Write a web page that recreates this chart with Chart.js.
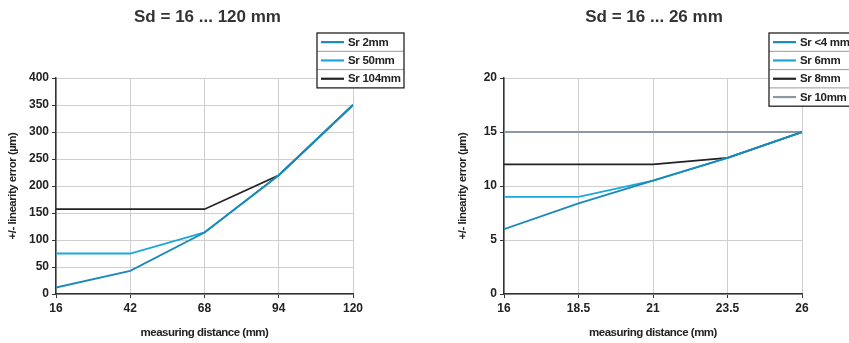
<!DOCTYPE html>
<html>
<head>
<meta charset="utf-8">
<script src="https://cdn.jsdelivr.net/npm/chart.js@4"></script>
<style>
  html, body { margin: 0; padding: 0; background: #fff; }
  #wrap { position: relative; width: 849px; height: 343px; }
  .box { position: absolute; top: 0; height: 343px; }
</style>
</head>
<body>
<div id="wrap">
  <div class="box" style="left:0;width:430px"><canvas id="left"></canvas></div>
  <div class="box" style="left:430px;width:419px"><canvas id="right"></canvas></div>
</div>
<script>
'use strict';

// Sd = 16 ... 120 mm
const distWide = [16, 42, 68, 94, 120];
const errWideTicks = [0, 50, 100, 150, 200, 250, 300, 350, 400];
const sr2 = [12, 43, 114, 220, 350];
const sr50 = [75, 75, 114, 220, 350];
const sr104 = [157, 157, 157, 220, 350];

// Sd = 16 ... 26 mm
const distNarrow = [16, 18.5, 21, 23.5, 26];
const errNarrowTicks = [0, 5, 10, 15, 20];
const srLt4 = [6, 8.4, 10.5, 12.6, 15];
const sr6 = [9, 9, 10.5, 12.6, 15];
const sr8 = [12, 12, 12, 12.6, 15];
const sr10 = [15, 15, 15, 15, 15];

const DARK_BLUE = '#1a89ba';
const LIGHT_BLUE = '#1ea7dd';
const BLACK = '#222222';
const GREY = '#8d99a2';
const FONT = '"Liberation Sans", Arial, sans-serif';

function toPoints(xs, ys) {
  return xs.map((x, i) => ({ x: x, y: ys[i] }));
}

function line(label, xs, ys, color) {
  return {
    label: label,
    data: toPoints(xs, ys),
    borderColor: color,
    backgroundColor: color,
    borderWidth: 1.8,
    pointRadius: 0,
    tension: 0,
  };
}

// titles, axis titles and the boxed legend
const decor = {
  id: 'decor',
  afterDraw(chart, args, opts) {
    const ctx = chart.ctx;
    const a = chart.chartArea;
    ctx.save();
    ctx.textAlign = 'center';
    ctx.textBaseline = 'middle';
    ctx.fillStyle = '#333';
    ctx.font = 'bold 17px ' + FONT;
    ctx.fillText(opts.title, (a.left + a.right) / 2 + opts.titleShift, 17);

    ctx.fillStyle = '#222';
    ctx.font = 'bold 11.5px ' + FONT;
    ctx.letterSpacing = '-0.5px';
    ctx.fillText('measuring distance (mm)', (a.left + a.right) / 2, 333);
    ctx.save();
    ctx.translate(opts.yTitleX, (a.top + a.bottom) / 2);
    ctx.rotate(-Math.PI / 2);
    ctx.fillText('+/- linearity error (\u00b5m)', 0, 0);
    ctx.restore();

    // legend box
    const lg = opts.legend;
    const sets = chart.data.datasets;
    const h = lg.rowH * sets.length;
    ctx.fillStyle = '#fff';
    ctx.fillRect(lg.x, lg.y, lg.w, h);
    ctx.textAlign = 'left';
    ctx.letterSpacing = '-0.3px';
    sets.forEach((ds, i) => {
      const cy = lg.y + lg.rowH * (i + 0.5);
      if (i > 0) {
        ctx.strokeStyle = '#9a9a9a';
        ctx.lineWidth = 1;
        ctx.beginPath();
        ctx.moveTo(lg.x, lg.y + lg.rowH * i);
        ctx.lineTo(lg.x + lg.w, lg.y + lg.rowH * i);
        ctx.stroke();
      }
      ctx.strokeStyle = ds.borderColor;
      ctx.lineWidth = 2.2;
      ctx.beginPath();
      ctx.moveTo(lg.x + 4, cy);
      ctx.lineTo(lg.x + 27, cy);
      ctx.stroke();
      ctx.fillStyle = '#222';
      ctx.fillText(ds.label, lg.x + 31, cy + 0.5);
    });
    ctx.strokeStyle = '#222';
    ctx.lineWidth = 1.3;
    ctx.strokeRect(lg.x, lg.y, lg.w, h);
    ctx.restore();
  },
};

function makeChart(canvas, datasets, xs, yTicks, cfg) {
  return new Chart(canvas, {
    type: 'line',
    data: { datasets: datasets },
    plugins: [decor],
    options: {
      responsive: true,
      maintainAspectRatio: false,
      animation: false,
      layout: { padding: { left: 0, right: cfg.padRight, top: 78, bottom: 0 } },
      plugins: {
        legend: { display: false },
        title: { display: false },
        tooltip: { enabled: false },
        decor: cfg.decor,
      },
      scales: {
        x: {
          type: 'linear',
          min: xs[0],
          max: xs[xs.length - 1],
          afterBuildTicks: axis => { axis.ticks = xs.map(v => ({ value: v })); },
          afterFit: axis => { axis.height = 49; },
          grid: { color: '#cfcfcf', lineWidth: 1, tickColor: '#333', tickLength: 4 },
          border: { color: '#333', width: 1.5 },
          ticks: {
            color: '#222',
            padding: 3,
            maxRotation: 0,
            font: { family: FONT, size: 12, weight: 'bold' },
            callback: v => String(v),
          },
        },
        y: {
          min: yTicks[0],
          max: yTicks[yTicks.length - 1],
          afterBuildTicks: axis => { axis.ticks = yTicks.map(v => ({ value: v })); },
          afterFit: axis => { axis.width = cfg.yWidth; },
          grid: { color: '#cfcfcf', lineWidth: 1, tickColor: '#333', tickLength: 4 },
          border: { color: '#333', width: 1.5 },
          ticks: {
            color: '#222',
            padding: 3,
            font: { family: FONT, size: 12, weight: 'bold' },
            callback: v => String(v),
          },
        },
      },
    },
  });
}

makeChart(
  document.getElementById('left'),
  [
    line('Sr 2mm', distWide, sr2, DARK_BLUE),
    line('Sr 50mm', distWide, sr50, LIGHT_BLUE),
    line('Sr 104mm', distWide, sr104, BLACK),
  ],
  distWide,
  errWideTicks,
  {
    padRight: 77,
    yWidth: 56,
    decor: {
      title: 'Sd = 16 ... 120 mm',
      titleShift: 3,
      yTitleX: 13,
      legend: { x: 317, y: 33, w: 87, rowH: 18.3 },
    },
  }
);

makeChart(
  document.getElementById('right'),
  [
    line('Sr <4 mm', distNarrow, srLt4, DARK_BLUE),
    line('Sr 6mm', distNarrow, sr6, LIGHT_BLUE),
    line('Sr 8mm', distNarrow, sr8, BLACK),
    line('Sr 10mm', distNarrow, sr10, GREY),
  ],
  distNarrow,
  errNarrowTicks,
  {
    padRight: 47,
    yWidth: 74,
    decor: {
      title: 'Sd = 16 ... 26 mm',
      titleShift: 1,
      yTitleX: 33,
      legend: { x: 339, y: 33, w: 95, rowH: 18.3 },
    },
  }
);
</script>
</body>
</html>
